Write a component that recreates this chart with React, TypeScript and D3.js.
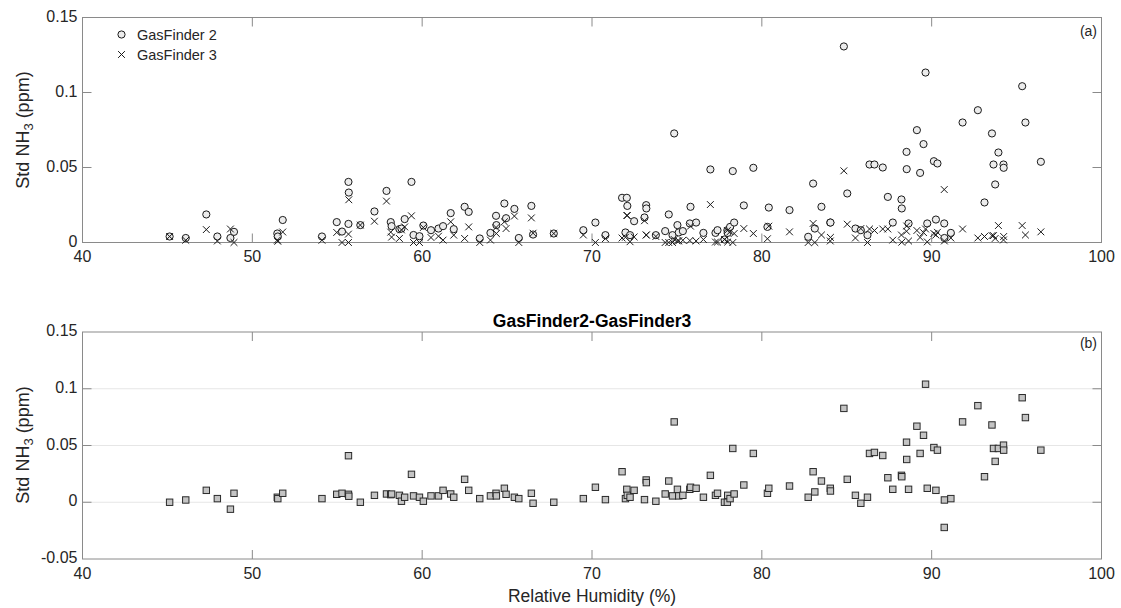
import React from 'react';
import * as d3 from 'd3';

// relative humidity (%) of each sample
const rh = [
  45.13, 46.08, 47.29, 47.94, 48.71, 48.92, 51.47, 51.5, 51.79, 54.1,
  54.97, 55.28, 55.66, 55.66, 55.68, 56.36, 57.19, 57.9, 58.15, 58.2,
  58.66, 58.78, 58.97, 59.37, 59.49, 59.84, 60.07, 60.52, 60.96, 61.23,
  61.68, 61.86, 62.5, 62.74, 63.39, 64.02, 64.35, 64.37, 64.84, 64.94,
  65.43, 65.69, 66.43, 66.53, 67.75, 69.49, 70.2, 70.79, 71.77, 71.97,
  72.05, 72.08, 72.24, 72.48, 73.09, 73.19, 73.2, 73.76, 74.31, 74.52,
  74.74, 74.84, 75.03, 75.11, 75.35, 75.76, 75.8, 76.13, 76.56, 76.97,
  77.27, 77.39, 77.8, 77.97, 77.99, 78.13, 78.29, 78.37, 78.94, 79.5,
  80.33, 80.41, 81.63, 82.73, 83.02, 83.12, 83.51, 84.03, 84.04, 84.83,
  85.03, 85.51, 85.83, 86.22, 86.34, 86.63, 87.12, 87.42, 87.71, 88.22,
  88.24, 88.52, 88.53, 88.64, 89.13, 89.32, 89.52, 89.64, 89.74, 90.13,
  90.25, 90.34, 90.74, 90.75, 91.13, 91.82, 92.72, 93.11, 93.55, 93.64,
  93.74, 93.93, 94.23, 94.24, 95.33, 95.52, 96.43,
];

// std NH3 (ppm), GasFinder 2
const gf2 = [
  0.004, 0.003, 0.0187, 0.004, 0.003, 0.0071, 0.006, 0.004, 0.015, 0.004,
  0.0136, 0.0073, 0.0404, 0.0124, 0.0333, 0.0116, 0.0207, 0.0344, 0.0136, 0.0109,
  0.0089, 0.0093, 0.0156, 0.0404, 0.005, 0.0042, 0.0113, 0.0082, 0.0093, 0.0109,
  0.0196, 0.0089, 0.0238, 0.0204, 0.0027, 0.0064, 0.0178, 0.0116, 0.026, 0.0162,
  0.0224, 0.003, 0.0244, 0.0053, 0.006, 0.0082, 0.0133, 0.0049, 0.0298, 0.0067,
  0.0298, 0.0244, 0.0049, 0.0142, 0.0167, 0.0249, 0.0227, 0.0049, 0.0076, 0.0187,
  0.0049, 0.0727, 0.0116, 0.0067, 0.0076, 0.0127, 0.0238, 0.0133, 0.0064, 0.0487,
  0.0064, 0.0082, 0.002, 0.0082, 0.0064, 0.0104, 0.0476, 0.0133, 0.0247, 0.0498,
  0.0104, 0.0233, 0.0216, 0.0038, 0.0393, 0.0093, 0.0238, 0.0133, 0.0133, 0.1307,
  0.0327, 0.0093, 0.0082, 0.0049, 0.052, 0.052, 0.05, 0.0304, 0.0133, 0.0287,
  0.0227, 0.0604, 0.0489, 0.0127, 0.0749, 0.0464, 0.0656, 0.1133, 0.0127, 0.0542,
  0.0153, 0.0527, 0.0127, 0.003, 0.0064, 0.08, 0.0882, 0.0267, 0.0727, 0.052,
  0.0387, 0.06, 0.052, 0.0498, 0.1042, 0.08, 0.0538,
];

// std NH3 (ppm), GasFinder 3
const gf3 = [
  0.004, 0.0015, 0.0086, 0.001, 0.009, 0.0, 0.0016, 0.0008, 0.007, 0.0015,
  0.0067, 0.0, 0.0, 0.0056, 0.0285, 0.0116, 0.0142, 0.0276, 0.0069, 0.0036,
  0.0027, 0.0084, 0.0104, 0.0178, 0.0, 0.0, 0.01, 0.0033, 0.0042, 0.0016,
  0.0138, 0.0049, 0.0027, 0.0104, 0.0, 0.0016, 0.01, 0.006, 0.0138, 0.0093,
  0.0176, 0.0, 0.0164, 0.0062, 0.006, 0.005, 0.0, 0.0026, 0.003, 0.0035,
  0.018, 0.018, 0.0005, 0.0037, 0.0145, 0.005, 0.005, 0.004, 0.0, 0.0,
  0.0, 0.002, 0.001, 0.0011, 0.0015, 0.0013, 0.0109, 0.001, 0.002, 0.0253,
  0.0003, 0.0003, 0.002, 0.008, 0.0003, 0.0072, 0.0, 0.006, 0.0093, 0.006,
  0.0025, 0.0109, 0.0071, 0.0, 0.0127, 0.0, 0.005, 0.001, 0.0034, 0.0478,
  0.0122, 0.003, 0.0093, 0.0, 0.009, 0.008, 0.009, 0.009, 0.0016, 0.005,
  0.0002, 0.0075, 0.011, 0.001, 0.008, 0.0034, 0.0066, 0.009, 0.0004, 0.006,
  0.005, 0.0068, 0.0353, 0.001, 0.003, 0.009, 0.003, 0.004, 0.0046, 0.0046,
  0.0027, 0.0113, 0.0017, 0.004, 0.0113, 0.005, 0.0071,
];

// GasFinder2 - GasFinder3 (ppm)
const diff = [
  0.0, 0.002, 0.0105, 0.0032, -0.0061, 0.0079, 0.0044, 0.0032, 0.0079, 0.0032,
  0.007, 0.0079, 0.041, 0.007, 0.0053, 0.0, 0.0061, 0.0073, 0.0067, 0.0072,
  0.0061, 0.0009, 0.0044, 0.0246, 0.0056, 0.0044, 0.0009, 0.0056, 0.0056, 0.0105,
  0.0073, 0.0044, 0.0202, 0.0105, 0.0032, 0.0056, 0.0079, 0.0056, 0.0123, 0.007,
  0.0044, 0.0032, 0.0079, -0.0009, 0.0, 0.0032, 0.0132, 0.0023, 0.0269, 0.0032,
  0.0114, 0.0061, 0.0044, 0.0105, 0.0023, 0.0196, 0.0173, 0.0009, 0.0073, 0.0187,
  0.0056, 0.0708, 0.0114, 0.0056, 0.0061, 0.0114, 0.0132, 0.0123, 0.0044, 0.0237,
  0.0061, 0.0079, 0.0, 0.0, 0.0061, 0.0032, 0.0474, 0.0073, 0.0152, 0.043,
  0.0079, 0.0123, 0.0143, 0.0044, 0.0269, 0.0091, 0.0187, 0.0123, 0.0099, 0.0827,
  0.0202, 0.0061, -0.0009, 0.0044, 0.043, 0.0439, 0.0412, 0.0216, 0.0114, 0.0237,
  0.0225, 0.0529, 0.0377, 0.0114, 0.067, 0.043, 0.059, 0.104, 0.0123, 0.0482,
  0.0105, 0.0459, -0.0222, 0.002, 0.0032, 0.0708, 0.0851, 0.0225, 0.0681, 0.0474,
  0.036, 0.0474, 0.0503, 0.0459, 0.0921, 0.0746, 0.0459,
];

const xTicks = [40, 50, 60, 70, 80, 90, 100];
const yTicksA = [0, 0.05, 0.1, 0.15];
const yTicksB = [-0.05, 0, 0.05, 0.1, 0.15];
const legendNames = ['GasFinder 2', 'GasFinder 3'];

const FONT = 'Liberation Sans, Arial, sans-serif';
const AXIS = '#8a8a8a';
const INK = '#262626';

const x = d3.scaleLinear().domain([40, 100]).range([82.5, 1101.5]);
const yA = d3.scaleLinear().domain([0, 0.15]).range([242.5, 17.5]);
const yB = d3.scaleLinear().domain([-0.05, 0.15]).range([559, 332]);

function Frame({ y, ticks, grid }) {
  const [x0, x1] = x.range();
  const [b, t] = y.range();
  const tl = 9;
  return (
    <g>
      {grid &&
        ticks.slice(1, -1).map((v) => (
          <line key={'g' + v} x1={x0} x2={x1} y1={y(v)} y2={y(v)} stroke="#e6e6e6" strokeWidth={1} />
        ))}
      <rect x={x0} y={t} width={x1 - x0} height={b - t} fill="none" stroke={AXIS} strokeWidth={1} />
      {xTicks.slice(1, -1).map((v) => (
        <g key={'x' + v}>
          <line x1={x(v)} x2={x(v)} y1={b} y2={b - tl} stroke={AXIS} />
          <line x1={x(v)} x2={x(v)} y1={t} y2={t + tl} stroke={AXIS} />
        </g>
      ))}
      {ticks.slice(1, -1).map((v) => (
        <g key={'y' + v}>
          <line x1={x0} x2={x0 + tl} y1={y(v)} y2={y(v)} stroke={AXIS} />
          <line x1={x1} x2={x1 - tl} y1={y(v)} y2={y(v)} stroke={AXIS} />
        </g>
      ))}
      {xTicks.map((v) => (
        <text key={'xl' + v} x={x(v)} y={b + 19.5} textAnchor="middle" fontSize={16} fill={INK} fontFamily={FONT}>
          {v}
        </text>
      ))}
      {ticks.map((v) => (
        <text key={'yl' + v} x={x0 - 5} y={y(v) + 4} textAnchor="end" fontSize={16} fill={INK} fontFamily={FONT}>
          {String(v)}
        </text>
      ))}
    </g>
  );
}

function YLabel({ cy }) {
  return (
    <text transform={`translate(29,${cy}) rotate(-90)`} textAnchor="middle" fontSize={18} fill={INK} fontFamily={FONT}>
      Std NH
      <tspan fontSize={13} dy={4}>3</tspan>
      <tspan dy={-4}> (ppm)</tspan>
    </text>
  );
}

function Cross({ cx, cy, s = 3.4 }) {
  return (
    <path d={`M${cx - s},${cy - s}L${cx + s},${cy + s}M${cx - s},${cy + s}L${cx + s},${cy - s}`} stroke="#1a1a1a" strokeWidth={1} />
  );
}

export default function App() {
  return (
    <svg width={1121} height={608} style={{ position: 'absolute', left: 0, top: 0, background: '#fff' }}>
      <rect width={1121} height={608} fill="#fff" />
      {/* panel (a) */}
      <Frame y={yA} ticks={yTicksA} grid={false} />
      {rh.map((r, i) => (
        <circle key={'c' + i} cx={x(r)} cy={yA(gf2[i])} r={3.6} fill="#ececec" stroke="#1a1a1a" strokeWidth={1} />
      ))}
      {rh.map((r, i) => (
        <Cross key={'k' + i} cx={x(r)} cy={yA(gf3[i])} />
      ))}
      <circle cx={121.5} cy={34.5} r={3.6} fill="#ececec" stroke="#1a1a1a" strokeWidth={1} />
      <Cross cx={121.5} cy={54.5} />
      {legendNames.map((n, i) => (
        <text key={n} x={137} y={39.5 + i * 20} fontSize={14.5} fill={INK} fontFamily={FONT}>
          {n}
        </text>
      ))}
      <text x={1097} y={36} textAnchor="end" fontSize={14} fill={INK} fontFamily={FONT}>(a)</text>
      <YLabel cy={130} />

      {/* panel (b) */}
      <Frame y={yB} ticks={yTicksB} grid={true} />
      {rh.map((r, i) => (
        <rect key={'s' + i} x={x(r) - 3.2} y={yB(diff[i]) - 3.2} width={6.4} height={6.4} fill="#c4c4c4" stroke="#2a2a2a" strokeWidth={1} />
      ))}
      <text x={1097} y={348} textAnchor="end" fontSize={14} fill={INK} fontFamily={FONT}>(b)</text>
      <text x={592} y={327} textAnchor="middle" fontSize={17.5} fontWeight="bold" fill="#000" fontFamily={FONT}>
        GasFinder2-GasFinder3
      </text>
      <YLabel cy={445} />
      <text x={592} y={602} textAnchor="middle" fontSize={17.5} fill={INK} fontFamily={FONT}>
        Relative Humidity (%)
      </text>
    </svg>
  );
}
